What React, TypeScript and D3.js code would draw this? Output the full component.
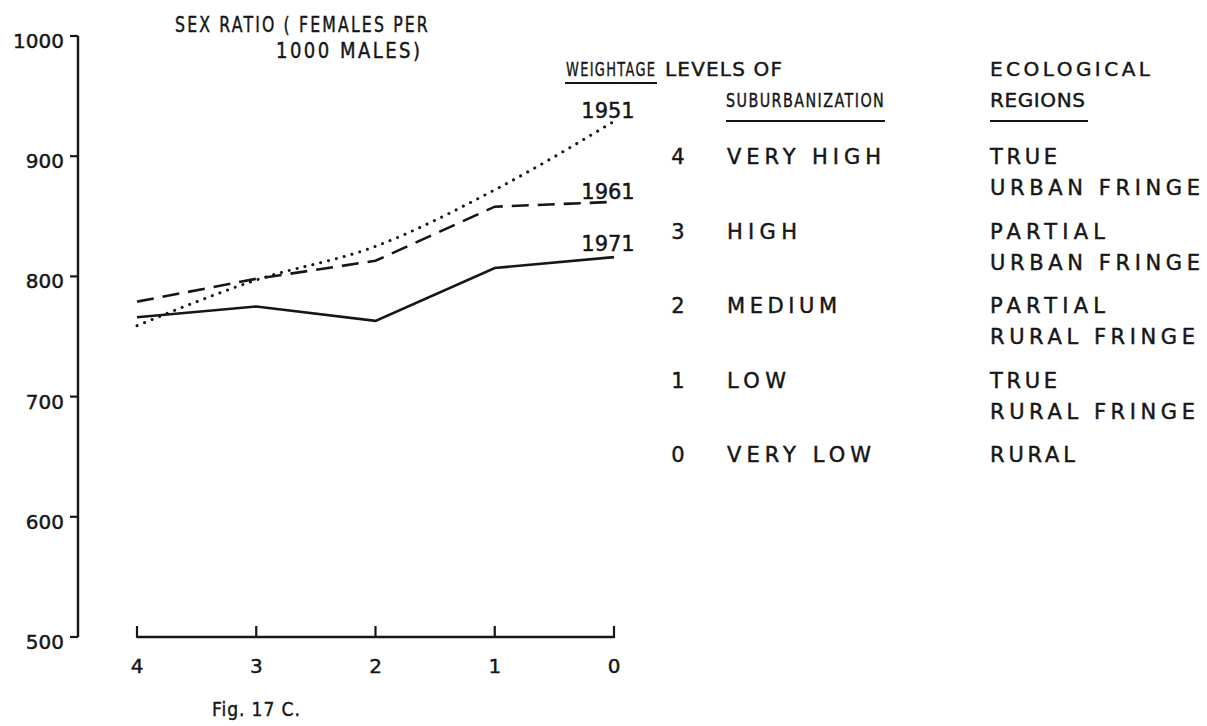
import React, { useLayoutEffect, useRef, useState } from "react";
import * as d3 from "d3";

// ---- data ----
const weightage = [4, 3, 2, 1, 0];
const xTickLabels = ["4", "3", "2", "1", "0"];
const yTicks = [500, 600, 700, 800, 900, 1000];
const sr1951 = [759, 797, 825, 872, 929];
const sr1961 = [779, 798, 813, 858, 862];
const sr1971 = [766, 775, 763, 807, 816];
const seriesNames = ["1951", "1961", "1971"];

const tableWeights = ["4", "3", "2", "1", "0"];
const levelNames = ["VERY HIGH", "HIGH", "MEDIUM", "LOW", "VERY LOW"];
const regionLine1 = ["TRUE", "PARTIAL", "PARTIAL", "TRUE", "RURAL"];
const regionLine2 = ["URBAN FRINGE", "URBAN FRINGE", "RURAL FRINGE", "RURAL FRINGE", ""];

// text widths measured on the reference lettering
const levelWidths = [154, 70, 110, 59, 144];
const region1Widths = [67, 115, 115, 67, 85];
const region2Widths = [210, 210, 205, 205, 0];

const FONT = "'DejaVu Sans', 'Liberation Sans', sans-serif";
const INK = "#161616";
const TEXT_STROKE = 0.45;

type TOpts = { len?: number; anchor?: string; size?: number };

function FitText(props: { x: number; y: number; len: number; size: number; ls: number; text: string }) {
  const ref = useRef<SVGTextElement>(null);
  const [k, setK] = useState(1);
  useLayoutEffect(() => {
    if (ref.current) {
      const w = ref.current.getBBox().width - props.ls;
      if (w > 0) setK(props.len / w);
    }
  }, [props.len, props.text, props.ls, props.size]);
  return (
    <g transform={`translate(${props.x},${props.y}) scale(${k},1)`}>
      <text
        ref={ref}
        x={0}
        y={0}
        fontFamily={FONT}
        fontSize={props.size}
        fill={INK}
        stroke={INK}
        strokeWidth={TEXT_STROKE}
        style={{ letterSpacing: `${props.ls}px` }}
      >
        {props.text}
      </text>
    </g>
  );
}

export default function App() {
  const x = d3.scaleLinear().domain([4, 0]).range([137, 614]);
  const y = d3.scaleLinear().domain([500, 1000]).range([637, 36]);

  const straight = d3
    .line<number>()
    .x((_, i) => x(weightage[i]))
    .y((d) => y(d));
  const smooth = d3
    .line<number>()
    .x((_, i) => x(weightage[i]))
    .y((d) => y(d))
    .curve(d3.curveMonotoneX);

  const rowBase = [164, 239, 313, 388, 462];

  const txt = (s: string, tx: number, ty: number, opts: TOpts = {}) => (
    <text
      x={tx}
      y={ty}
      fontFamily={FONT}
      fontSize={opts.size ?? 20}
      fill={INK}
      stroke={INK}
      strokeWidth={TEXT_STROKE}
      textAnchor={opts.anchor ?? "start"}
      textLength={opts.len || undefined}
      lengthAdjust={opts.len ? "spacing" : undefined}
    >
      {s}
    </text>
  );

  return (
    <svg
      width={1207}
      height={726}
      style={{ position: "absolute", left: 0, top: 0, background: "#fff" }}
    >
      <rect x={0} y={0} width={1207} height={726} fill="#fff" />

      {/* Y axis */}
      <line x1={78} x2={78} y1={y(1000)} y2={y(500)} stroke={INK} strokeWidth={2.4} />
      {yTicks.map((t) => (
        <g key={t}>
          <line x1={70} x2={78} y1={y(t)} y2={y(t)} stroke={INK} strokeWidth={2.2} />
          {txt(String(t), 64, y(t) + 12, { anchor: "end", size: 20 })}
        </g>
      ))}

      {/* X axis */}
      <line x1={x(4)} x2={x(0)} y1={637} y2={637} stroke={INK} strokeWidth={2.4} />
      {weightage.map((w, i) => (
        <g key={w}>
          <line x1={x(w)} x2={x(w)} y1={638} y2={626} stroke={INK} strokeWidth={2.2} />
          {txt(xTickLabels[i], x(w), 673, { anchor: "middle", size: 20 })}
        </g>
      ))}

      {/* series */}
      <path d={smooth(sr1951) ?? ""} fill="none" stroke={INK} strokeWidth={3} strokeDasharray="0.1 8" strokeLinecap="round" />
      <path d={straight(sr1961) ?? ""} fill="none" stroke={INK} strokeWidth={2.6} strokeDasharray="17 9" />
      <path d={straight(sr1971) ?? ""} fill="none" stroke={INK} strokeWidth={2.6} />

      {txt(seriesNames[0], 608, 118, { anchor: "middle", size: 21 })}
      {txt(seriesNames[1], 608, 199, { anchor: "middle", size: 21 })}
      {txt(seriesNames[2], 608, 251, { anchor: "middle", size: 21 })}

      {/* title */}
      <FitText text="SEX RATIO ( FEMALES PER" x={175} y={32} len={253} size={22} ls={3} />
      <FitText text="1000  MALES)" x={276} y={58} len={144} size={22} ls={3} />
      <FitText text="Fig. 17 C." x={212} y={716} len={88} size={20} ls={1} />

      {/* table headers */}
      <FitText text="WEIGHTAGE" x={566} y={76} len={89} size={20} ls={2} />
      <line x1={565} x2={657} y1={83} y2={83} stroke={INK} strokeWidth={1.8} />
      {txt("LEVELS OF", 665, 76, { len: 117, size: 20 })}
      <FitText text="SUBURBANIZATION" x={726} y={107} len={158} size={20} ls={2} />
      <line x1={726} x2={885} y1={121} y2={121} stroke={INK} strokeWidth={1.8} />
      {txt("ECOLOGICAL", 990, 76, { len: 160, size: 20 })}
      {txt("REGIONS", 990, 107, { len: 95, size: 20 })}
      <line x1={990} x2={1088} y1={121} y2={121} stroke={INK} strokeWidth={1.8} />

      {tableWeights.map((w, i) => (
        <g key={w}>
          {txt(w, 678, rowBase[i], { anchor: "middle", size: 21 })}
          {txt(levelNames[i], 727, rowBase[i], { len: levelWidths[i], size: 21 })}
          {txt(regionLine1[i], 990, rowBase[i], { len: region1Widths[i], size: 21 })}
          {regionLine2[i] ? txt(regionLine2[i], 990, rowBase[i] + 31, { len: region2Widths[i], size: 21 }) : null}
        </g>
      ))}
    </svg>
  );
}
